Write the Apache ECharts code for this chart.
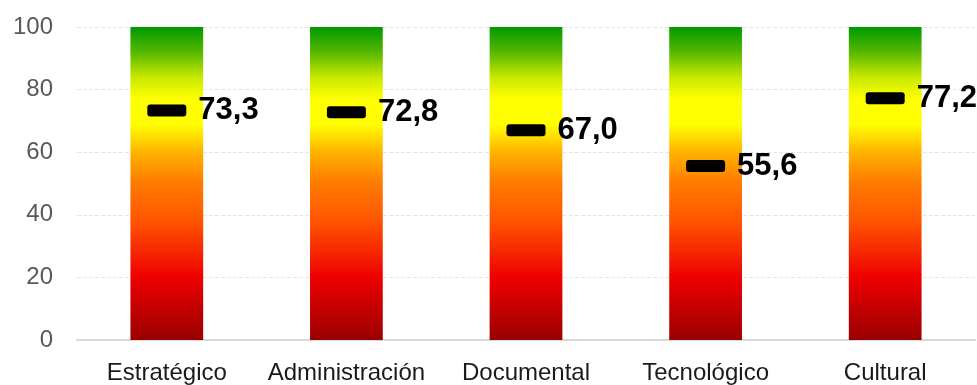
<!DOCTYPE html>
<html>
<head>
<meta charset="utf-8">
<script src="https://cdn.jsdelivr.net/npm/echarts@6/dist/echarts.min.js"></script>
<style>
  html, body { margin: 0; padding: 0; background: #fff; }
  #chart { width: 977px; height: 385px; }
</style>
</head>
<body>
<div id="chart"></div>
<script>
const categories = ['Estratégico', 'Administración', 'Documental', 'Tecnológico', 'Cultural'];
const scores = [73.3, 72.8, 67.0, 55.6, 77.2];
const scaleMax = [100, 100, 100, 100, 100];
const yTicks = [0, 20, 40, 60, 80, 100];

const fmt = (v) => Number(v).toFixed(1).replace('.', ',');

const barGradient = new echarts.graphic.LinearGradient(0, 1, 0, 0, [
  { offset: 0, color: '#990000' },
  { offset: 0.2, color: '#ee0000' },
  { offset: 0.38, color: '#ff5500' },
  { offset: 0.5, color: '#ff7a00' },
  { offset: 0.6, color: '#ffb300' },
  { offset: 0.69, color: '#ffff00' },
  { offset: 0.77, color: '#ffff00' },
  { offset: 0.84, color: '#c8e800' },
  { offset: 0.92, color: '#55b800' },
  { offset: 1, color: '#009900' },
]);

// rounded bar marker, small corner radius
const markerPath = 'path://M3,0 H36 Q39,0 39,3 V9 Q39,12 36,12 H3 Q0,12 0,9 V3 Q0,0 3,0 Z';

const chart = echarts.init(document.getElementById('chart'));
chart.setOption({
  animation: false,
  grid: { left: 77, right: 2, top: 27, bottom: 45 },
  xAxis: {
    type: 'category',
    data: categories,
    axisLine: { lineStyle: { color: '#d9d9d9', width: 2 } },
    axisTick: { show: false },
    axisLabel: {
      interval: 0,
      color: '#1a1a1a',
      fontSize: 24,
      fontFamily: 'Liberation Sans',
      margin: 21,
    },
  },
  yAxis: {
    type: 'value',
    min: yTicks[0],
    max: yTicks[yTicks.length - 1],
    interval: 20,
    axisLine: { show: false },
    axisTick: { show: false },
    axisLabel: {
      color: '#595959',
      fontSize: 24,
      fontFamily: 'Liberation Sans',
      margin: 24,
    },
    splitLine: { lineStyle: { color: '#e6e6e6', type: 'dashed' } },
  },
  series: [
    {
      type: 'bar',
      data: scaleMax,
      barWidth: '40.5%',
      itemStyle: { color: barGradient },
      silent: true,
    },
    {
      type: 'scatter',
      data: scores,
      symbol: markerPath,
      symbolSize: [39, 12],
      symbolKeepAspect: false,
      itemStyle: { color: '#000', opacity: 1 },
      label: {
        show: true,
        position: 'right',
        distance: 12,
        color: '#000',
        opacity: 1,
        fontSize: 31,
        fontWeight: 'bold',
        fontFamily: 'Liberation Sans',
        formatter: (p) => fmt(p.value),
      },
      z: 5,
    },
  ],
});
</script>
</body>
</html>
